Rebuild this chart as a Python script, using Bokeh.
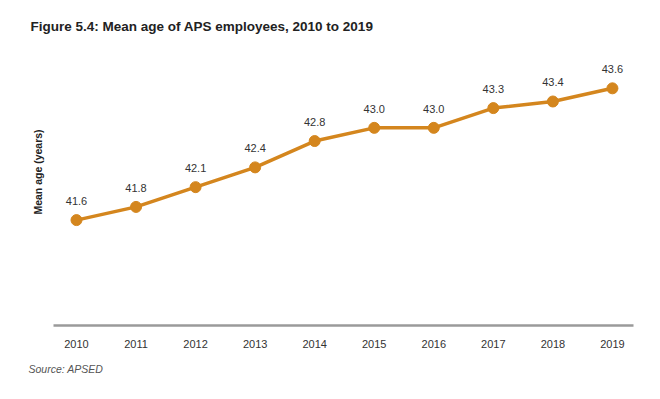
from bokeh.plotting import figure
from bokeh.models import ColumnDataSource, Range1d, LinearAxis, FixedTicker, LabelSet, Label, Title
from bokeh.core.properties import value
from bokeh.embed import file_html
from bokeh.resources import INLINE
import math

years = [2010, 2011, 2012, 2013, 2014, 2015, 2016, 2017, 2018, 2019]
mean_age = [41.6, 41.8, 42.1, 42.4, 42.8, 43.0, 43.0, 43.3, 43.4, 43.6]
value_labels = ["41.6", "41.8", "42.1", "42.4", "42.8", "43.0", "43.0", "43.3", "43.4", "43.6"]

FONT = "Liberation Sans"
ORANGE = "#D4861E"

src = ColumnDataSource(dict(x=years, y=mean_age, lab=value_labels))

p = figure(width=652, height=399, output_backend="svg", toolbar_location=None,
           x_range=Range1d(2009.194, 2019.673), y_range=Range1d(40.0, 44.933),
           min_border_left=28, min_border_right=0, min_border_top=0, min_border_bottom=74,
           x_axis_location=None, y_axis_location=None)
p.outline_line_color = None
p.xgrid.grid_line_color = None
p.ygrid.grid_line_color = None

xaxis = LinearAxis(ticker=FixedTicker(ticks=years), bounds=(2009.614, 2019.353))
xaxis.axis_line_color = "#9a9a9a"
xaxis.axis_line_width = 2.5
xaxis.major_tick_line_color = None
xaxis.minor_tick_line_color = None
xaxis.major_label_standoff = 8
xaxis.major_label_text_font = FONT
xaxis.major_label_text_font_size = "11px"
xaxis.major_label_text_color = "#333333"
p.add_layout(xaxis, "below")

p.add_layout(Title(text="Source: APSED", text_font=FONT, text_font_size="10.5px",
                   text_font_style="italic", text_color="#555555",
                   align="left", offset=0, standoff=21), "below")

p.add_layout(Label(x=2, y=299, x_units="screen", y_units="screen",
                   text="Figure 5.4: Mean age of APS employees, 2010 to 2019",
                   text_font=FONT, text_font_size="13.5px", text_font_style="bold",
                   text_color="#222222", text_baseline="middle", text_align="left"))

p.add_layout(Label(x=9, y=42.33, x_units="screen",
                   text="Mean age (years)", angle=math.pi / 2,
                   text_font=FONT, text_font_size="10.5px", text_font_style="bold",
                   text_color="#222222", text_baseline="middle", text_align="center"))

p.line("x", "y", source=src, line_color=ORANGE, line_width=3.5)
p.scatter("x", "y", source=src, size=11, fill_color=ORANGE, line_color=ORANGE)

labels = LabelSet(x="x", y="y", text="lab", source=src, y_offset=15,
                  text_align="center", text_baseline="bottom",
                  text_font=value(FONT), text_font_size="11px", text_color="#333333")
p.add_layout(labels)

open("out.html", "w").write(file_html(p, INLINE))
